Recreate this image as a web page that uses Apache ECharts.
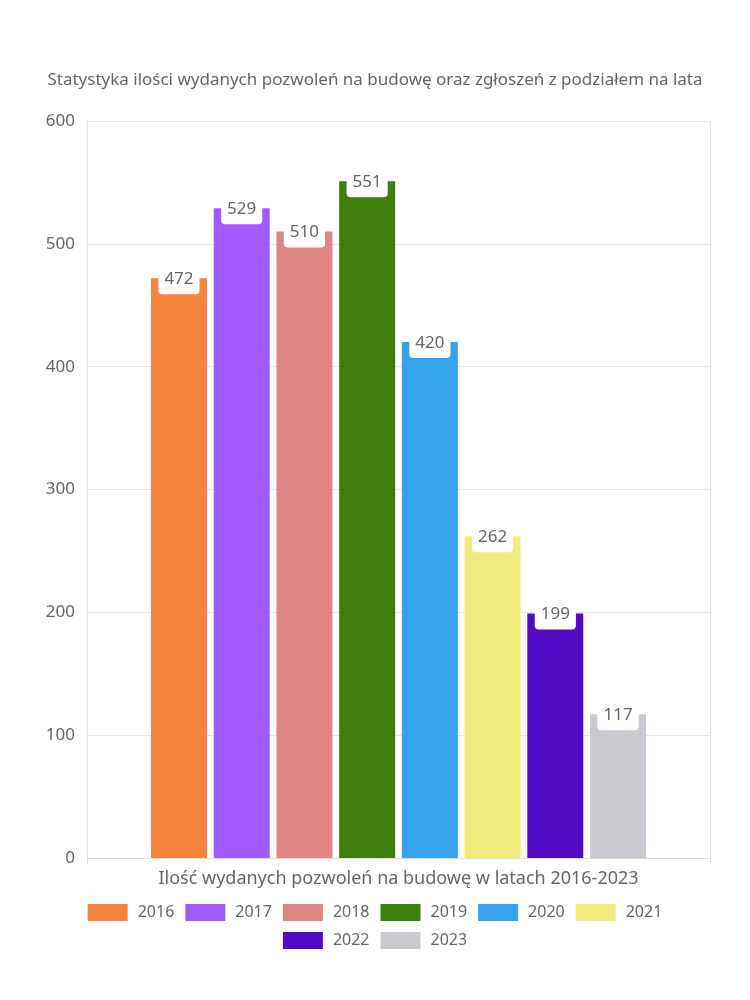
<!DOCTYPE html>
<html><head><meta charset="utf-8">
<script src="https://cdn.jsdelivr.net/npm/echarts@6/dist/echarts.min.js"></script>
<style>html,body{margin:0;padding:0;background:#fff}#c{width:750px;height:1000px}</style>
</head><body><div id="c"></div>
<script>
const titleText = 'Statystyka ilości wydanych pozwoleń na budowę oraz zgłoszeń z podziałem na lata';
const categories = ['Ilość wydanych pozwoleń na budowę w latach 2016-2023'];
const years = ['2016','2017','2018','2019','2020','2021','2022','2023'];
const values = [472, 529, 510, 551, 420, 262, 199, 117];
const colors = ['#f5843f','#a05aff','#e08585','#3f7d0c','#36a2eb','#f0ec7c','#520ac2','#c9cacf'];
const yTicks = {min: 0, max: 600, interval: 100};

const FONT = 'Noto Sans';
const TXT = '#666';
const legendBase = {
  left: 'center', icon: 'rect',
  itemWidth: 40, itemHeight: 17, itemGap: 11,
  textStyle: {fontFamily: FONT, fontSize: 16, color: TXT, padding: [0, 0, 0, 5]}
};
const chart = echarts.init(document.getElementById('c'));
chart.setOption({
  textStyle: {fontFamily: FONT},
  animation: false,
  title: {text: titleText, left: 'center', top: 67, textStyle: {fontFamily: FONT, fontSize: 17, fontWeight: 'normal', color: TXT}},
  grid: {left: 87, right: 40, top: 121, bottom: 142, containLabel: false},
  legend: [
    Object.assign({}, legendBase, {top: 899, data: years.slice(0, 6)}),
    Object.assign({}, legendBase, {top: 927, data: years.slice(6)})
  ],
  xAxis: {
    type: 'category', data: categories,
    axisLine: {lineStyle: {color: '#ddd'}},
    axisTick: {show: true, length: 6, lineStyle: {color: '#ddd'}},
    splitLine: {show: true, lineStyle: {color: '#e6e6e6'}},
    axisLabel: {fontFamily: FONT, fontSize: 18, color: TXT, margin: 12}
  },
  yAxis: {
    type: 'value', min: yTicks.min, max: yTicks.max, interval: yTicks.interval,
    axisLine: {show: false}, axisTick: {show: false},
    splitLine: {lineStyle: {color: '#e6e6e6'}},
    axisLabel: {fontFamily: FONT, fontSize: 17, color: TXT, margin: 12}
  },
  series: years.map((y, i) => ({
    name: y, type: 'bar', barWidth: 56, barGap: '12%',
    data: [values[i]],
    itemStyle: {color: colors[i]},
    label: {
      show: true, position: 'insideTop', distance: 0, offset: [0, -14],
      backgroundColor: '#fff', borderRadius: [0, 0, 4, 4],
      padding: [5, 6, 5, 6], lineHeight: 20,
      color: TXT, fontFamily: FONT, fontSize: 17
    }
  }))
});
</script></body></html>
